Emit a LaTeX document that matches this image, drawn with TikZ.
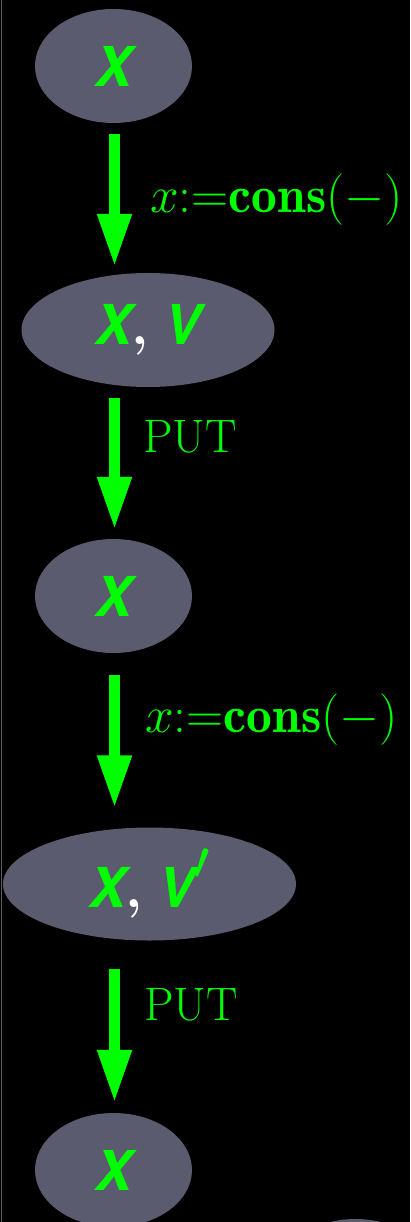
\RequirePackage{fix-cm}
\documentclass[tikz,border=0pt]{standalone}
\usepackage{fontspec}
\newfontfamily\heros{TeX Gyre Heros}
\usetikzlibrary{shapes.geometric,arrows.meta,calc}
\definecolor{nodegray}{RGB}{90,91,110}
\definecolor{vgreen}{RGB}{0,255,0}
\definecolor{edgegray}{RGB}{96,96,96}
\tikzset{
  state/.style={ellipse, fill=nodegray, draw=none, inner sep=0pt, text=vgreen,
    font=\fontsize{55}{60}\selectfont\heros\bfseries\itshape},
  small/.style={state, minimum width=157pt, minimum height=114pt},
  arr/.style={draw=vgreen, line width=11pt, -{Triangle[length=53pt, width=32pt]}},
  lbl/.style={anchor=base west, inner sep=0pt, text=vgreen, font=\fontsize{47}{50}\selectfont},
  mlbl/.style={lbl, font=\fontsize{51.5}{55}\selectfont},
}
\newcommand{\wcomma}{\textcolor{white}{\rmfamily\upshape\bfseries ,}}
\newcommand{\bigprime}{\raisebox{28pt}{$\prime$}}
\begin{document}
\begin{tikzpicture}[x=1pt, y=-1pt]
\fill[black] (0,0) rectangle (410,1222);
\useasboundingbox (0,0) rectangle (410,1222);
\draw[edgegray, line width=1pt] (1.5,0) -- (1.5,1222);

\node[small] (e1) at (113.5,66) {X};
\node[state, minimum width=253pt, minimum height=114pt] (e2) at (148,330) {X\wcomma{} V};
\node[small] (e3) at (113.5,596) {X};
\node[state, minimum width=293pt, minimum height=113pt] (e4) at (149.5,884) {X\wcomma{} V\bigprime};
\node[small] (e5) at (113.5,1170) {X};
\node[small] (e6) at (355.5,1276) {};

\coordinate (s1) at ($(e1.south)+(1,11)$);
\coordinate (t1) at ($(e2.north -| s1)+(0,-6)$);
\coordinate (s2) at ($(e2.south -| s1)+(0,11)$);
\coordinate (t2) at ($(e3.north -| s1)+(0,-9)$);
\coordinate (s3) at ($(e3.south -| s1)+(0,22)$);
\coordinate (t3) at ($(e4.north -| s1)+(0,-19)$);
\coordinate (s4) at ($(e4.south -| s1)+(0,28)$);
\coordinate (t4) at ($(e5.north -| s1)+(0,-10)$);

\draw[arr] (s1) -- (t1);
\draw[arr] (s2) -- (t2);
\draw[arr] (s3) -- (t3);
\draw[arr] (s4) -- (t4);

\node[mlbl] (l1) at (150,213) {$x{:}{=}\mathbf{cons}(-)$};
\node[lbl] (l2) at (143,452) {PUT};
\node[mlbl] (l3) at (145,732) {$x{:}{=}\mathbf{cons}(-)$};
\node[lbl] (l4) at (144,1020) {PUT};
\end{tikzpicture}
\end{document}
